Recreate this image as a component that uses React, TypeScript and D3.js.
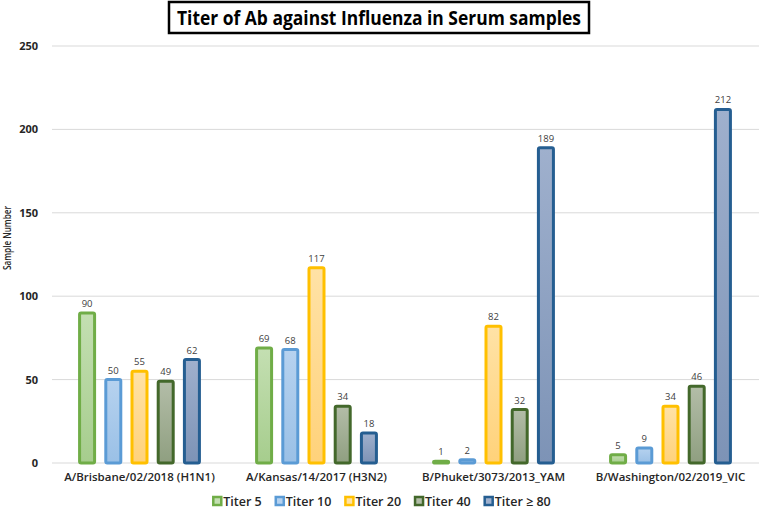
import React, { useEffect, useRef } from "react"
import * as d3 from "d3"

// data
const categories = [
  "A/Brisbane/02/2018 (H1N1)",
  "A/Kansas/14/2017 (H3N2)",
  "B/Phuket/3073/2013_YAM",
  "B/Washington/02/2019_VIC",
]
const seriesNames = ["Titer 5", "Titer 10", "Titer 20", "Titer 40", "Titer ≥ 80"]
const titer5 = [90, 69, 1, 5]
const titer10 = [50, 68, 2, 9]
const titer20 = [55, 117, 82, 34]
const titer40 = [49, 34, 32, 46]
const titer80 = [62, 18, 189, 212]
const yTicks = [0, 50, 100, 150, 200, 250]

const strokes = ["#70AD47", "#5B9BD5", "#FFC000", "#43682B", "#255E91"]
const fillTop = ["#c4dfb2", "#b6d2ef", "#ffe2a6", "#b3bda8", "#9fb0cd"]
const fillBottom = ["#a6cd8d", "#9ac0e6", "#ffd27a", "#8f9f80", "#7d93b6"]

const App = () => {
  const ref = useRef<SVGSVGElement>(null)

  useEffect(() => {
    const svg = d3.select(ref.current)
    svg.selectAll("*").remove()

    const allSeries = [titer5, titer10, titer20, titer40, titer80]

    const x0 = d3.scaleBand().domain(categories).range([51, 759]).padding(0)
    const bw = x0.bandwidth()
    const x1 = d3.scaleBand()
      .domain(seriesNames)
      .range([bw * 0.153, bw * 0.847])
      .paddingInner(0.313)
    const y = d3.scaleLinear().domain([0, 250]).range([463, 46])

    // gradients
    const defs = svg.append("defs")
    seriesNames.forEach((s, i) => {
      const g = defs.append("linearGradient")
        .attr("id", "grad" + i)
        .attr("x1", 0).attr("y1", 0).attr("x2", 0).attr("y2", 1)
      g.append("stop").attr("offset", "0%").attr("stop-color", fillTop[i])
      g.append("stop").attr("offset", "100%").attr("stop-color", fillBottom[i])
    })

    // title
    svg.append("rect")
      .attr("x", 169).attr("y", 2).attr("width", 420).attr("height", 31)
      .attr("fill", "white").attr("stroke", "#000").attr("stroke-width", 2.5)
    svg.append("text")
      .attr("x", 379).attr("y", 25)
      .attr("text-anchor", "middle")
      .attr("textLength", 404)
      .attr("lengthAdjust", "spacingAndGlyphs")
      .style("font-family", "Open Sans")
      .style("font-weight", "bold")
      .style("font-size", "20px")
      .attr("fill", "#000")
      .text("Titer of Ab against Influenza in Serum samples")

    // grid + y ticks
    svg.append("g").selectAll("line")
      .data(yTicks)
      .enter()
      .append("line")
      .attr("x1", 52).attr("x2", 759)
      .attr("y1", d => y(d)).attr("y2", d => y(d))
      .attr("stroke", "#d9d9d9").attr("stroke-width", 1)

    svg.append("g").selectAll("text")
      .data(yTicks)
      .enter()
      .append("text")
      .attr("x", 38).attr("y", d => y(d) + 4)
      .attr("text-anchor", "end")
      .style("font-family", "Open Sans")
      .style("font-weight", "bold")
      .style("font-size", "11px")
      .attr("fill", "#262626")
      .text(d => d)

    svg.append("text")
      .attr("transform", "translate(11,238) rotate(-90)")
      .attr("text-anchor", "middle")
      .attr("textLength", 64)
      .attr("lengthAdjust", "spacingAndGlyphs")
      .style("font-family", "Open Sans")
      .style("font-weight", 600)
      .style("font-size", "11px")
      .attr("fill", "#262626")
      .text("Sample Number")

    // bars
    const groups = svg.append("g").selectAll("g")
      .data(categories)
      .enter()
      .append("g")
      .attr("transform", d => "translate(" + x0(d) + ",0)")

    groups.each(function (cat, ci) {
      const g = d3.select(this)
      seriesNames.forEach((s, si) => {
        const v = allSeries[si][ci]
        const bx = (x1(s) as number) + 1.5
        g.append("rect")
          .attr("x", bx)
          .attr("y", y(v))
          .attr("width", x1.bandwidth() - 3)
          .attr("height", y(0) - y(v))
          .attr("rx", 1.5)
          .attr("fill", "url(#grad" + si + ")")
          .attr("stroke", strokes[si])
          .attr("stroke-width", 3)
        g.append("text")
          .attr("x", (x1(s) as number) + x1.bandwidth() / 2)
          .attr("y", y(v) - 6)
          .attr("text-anchor", "middle")
          .style("font-family", "Open Sans")
          .style("font-size", "9.5px")
          .attr("fill", "#404040")
          .text(v)
      })
    })

    // category labels
    svg.append("g").selectAll("text")
      .data(categories)
      .enter()
      .append("text")
      .attr("x", d => (x0(d) as number) + bw / 2)
      .attr("y", 481)
      .attr("text-anchor", "middle")
      .style("font-family", "Open Sans")
      .style("font-weight", 600)
      .style("font-size", "11.5px")
      .attr("fill", "#262626")
      .text(d => d)

    // legend
    const legend = svg.append("g")
    let cx = 0
    seriesNames.forEach((s, i) => {
      const item = legend.append("g").attr("transform", "translate(" + cx + ",0)")
      item.append("rect")
        .attr("x", 1).attr("y", -4).attr("width", 8).attr("height", 8)
        .attr("fill", fillTop[i])
        .attr("stroke", strokes[i]).attr("stroke-width", 2.5)
      const t = item.append("text")
        .attr("x", 11).attr("y", 4.5)
        .style("font-family", "Open Sans")
        .style("font-weight", 600)
        .style("font-size", "12.5px")
        .attr("fill", "#262626")
        .text(s)
      const w = (t.node() as SVGTextElement).getComputedTextLength()
      cx += 11 + w + 13
    })
    const total = cx - 13
    legend.attr("transform", "translate(" + (381.5 - total / 2) + ",501)")
  }, [])

  return (
    <svg
      ref={ref}
      width={762}
      height={511}
      style={{ position: "absolute", left: 0, top: 0, background: "white" }}
    />
  )
}

export default App
